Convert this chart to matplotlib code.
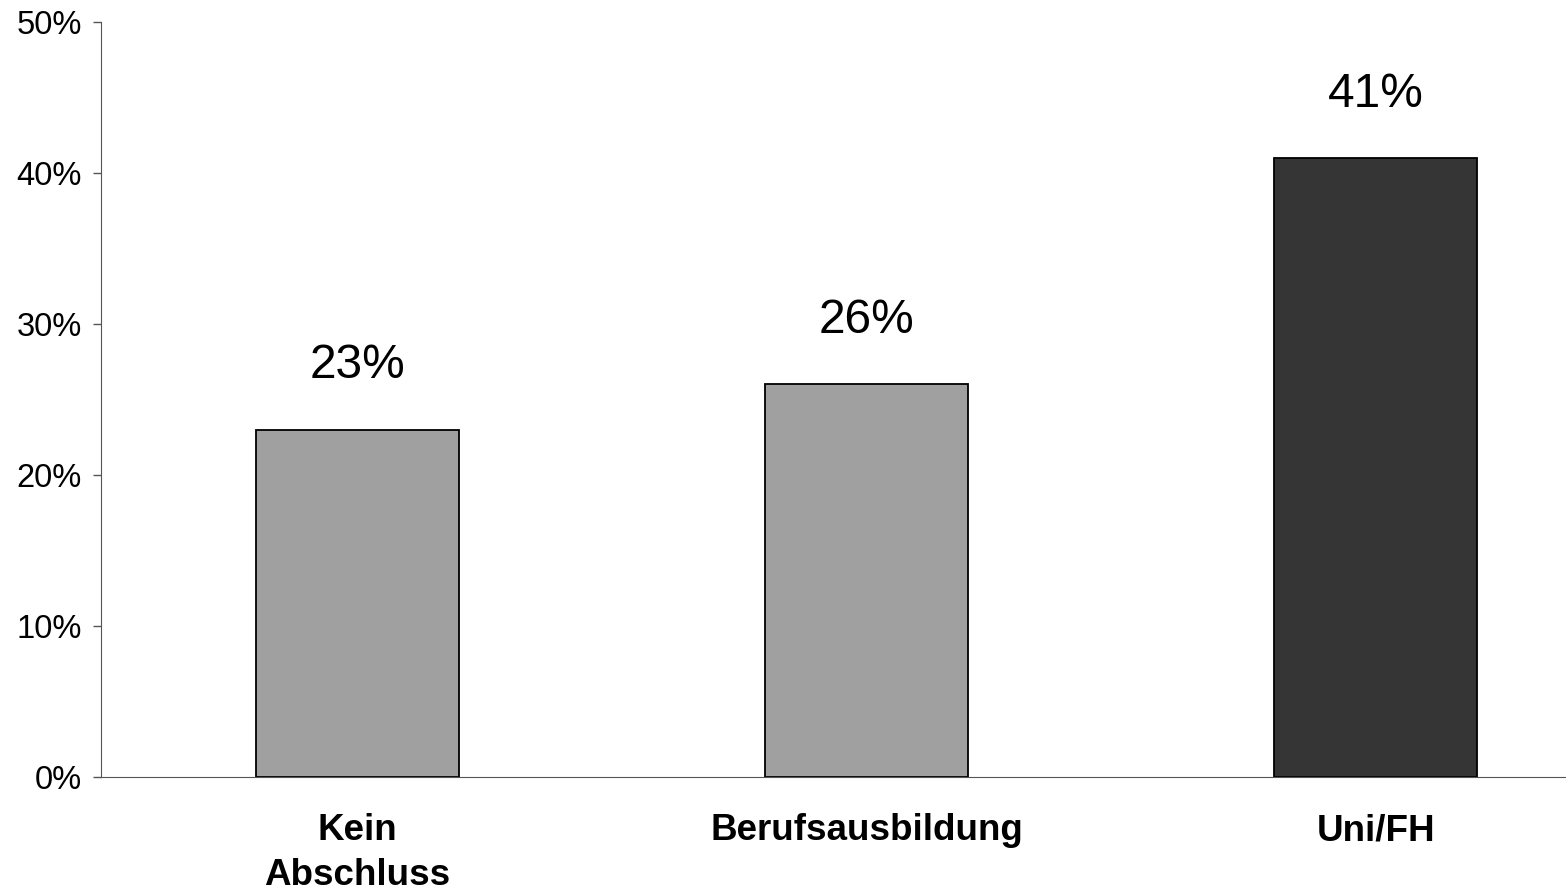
import matplotlib
matplotlib.use("Agg")
import matplotlib.pyplot as plt
from matplotlib.ticker import FuncFormatter

plt.rcParams['font.family'] = ['Liberation Sans', 'DejaVu Sans']

categories = ["Kein\nAbschluss", "Berufsausbildung", "Uni/FH"]
values = [23, 26, 41]
colors = ["#a0a0a0", "#a0a0a0", "#353535"]

fig = plt.figure(figsize=(15.66, 8.91), dpi=100)
ax = fig.add_axes([0.0645, 0.128, 0.9355, 0.8473])

x = range(len(categories))
bars = ax.bar(x, values, width=0.4, color=colors, edgecolor="black", linewidth=1.3)

# value labels above bars
for xi, v in zip(x, values):
    ax.annotate(f"{v}%", xy=(xi, v), xytext=(0, 46), textcoords="offset points",
                ha="center", va="center", fontsize=34.5)

ax.set_ylim(0, 50)
ax.set_xlim(-0.5035, 2.374)
ax.set_yticks(range(0, 51, 10))
ax.yaxis.set_major_formatter(FuncFormatter(lambda v, p: f"{int(v)}%"))
ax.tick_params(axis="y", labelsize=23.5, length=6, width=1, color="#555555", pad=8)
ax.set_xticks(list(x))
ax.set_xticklabels(categories, fontsize=26.5, fontweight="bold", linespacing=1.38)
ax.tick_params(axis="x", length=0, pad=26)

for s in ["top", "right"]:
    ax.spines[s].set_visible(False)
ax.spines["left"].set_color("#555555")
ax.spines["bottom"].set_color("#555555")

fig.savefig("out.png", dpi=100)
